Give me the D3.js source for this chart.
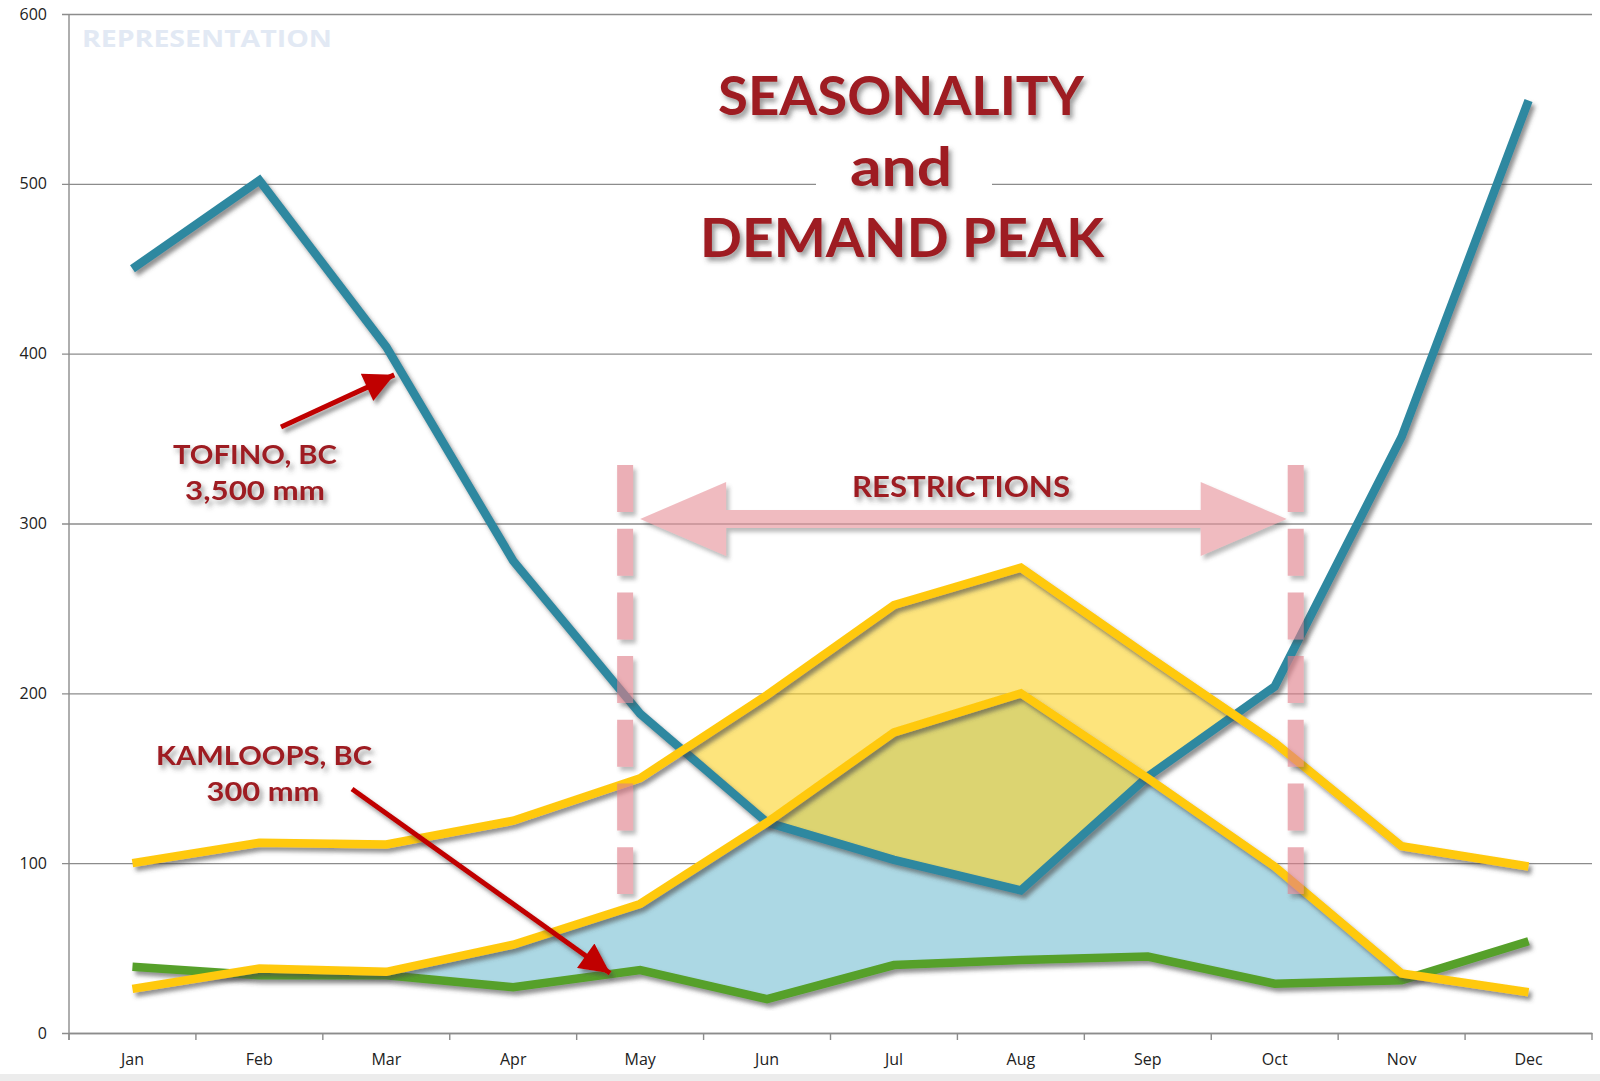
<!DOCTYPE html>
<html>
<head>
<meta charset="utf-8">
<script src="https://cdn.jsdelivr.net/npm/d3@7"></script>
<style>
  html, body { margin: 0; padding: 0; background: #fff; }
  svg { display: block; }
</style>
</head>
<body>
<div id="container"></div>
<script>
// chart data (mm per month)
var months = ["Jan", "Feb", "Mar", "Apr", "May", "Jun", "Jul", "Aug", "Sep", "Oct", "Nov", "Dec"];
var tofino = [450, 502, 404, 278, 188, 124, 102, 84, 151, 204, 351, 549];
var kamloops = [39, 34, 34, 27, 37, 20, 40, 43, 45, 29, 31, 54];
var demandHigh = [100, 112, 111, 125, 150, 199, 252, 274, 222, 171, 110, 98];
var demandLow = [26, 38, 36, 52, 76, 124, 177, 200, 150, 98, 35, 24];
var yTicks = [0, 100, 200, 300, 400, 500, 600];
var restrictFrom = "May", restrictTo = "Oct";

var w = 1600, h = 1081;
// plot edges (note: "top" is taken by window.top, so prefix them)
var plotLeft = 69, plotRight = 1592, plotTop = 14, plotBottom = 1033;

var svg = d3.select("#container")
  .append("svg")
  .attr("width", w)
  .attr("height", h);

var defs = svg.append("defs");

// soft drop shadow used for the lines and the labels
function shadow(id, dx, dy, sd, op) {
  defs.append("filter")
    .attr("id", id)
    .attr("x", "-20%").attr("y", "-20%")
    .attr("width", "140%").attr("height", "140%")
    .append("feDropShadow")
    .attr("dx", dx).attr("dy", dy)
    .attr("stdDeviation", sd)
    .attr("flood-color", "#4a4a4a")
    .attr("flood-opacity", op);
}
shadow("lineShadow", 3, 4, 2, 0.6);
shadow("textShadow", 3, 4, 2.5, 0.55);

var xScale = d3.scaleBand()
  .domain(months)
  .range([plotLeft, plotRight]);

var yScale = d3.scaleLinear()
  .domain([0, 600])
  .range([plotBottom, plotTop]);

function cx(m) { return xScale(m) + xScale.bandwidth() / 2; }

// bottom grey edge of the screenshot
svg.append("rect")
  .attr("x", 0).attr("y", 1074)
  .attr("width", w).attr("height", 7)
  .attr("fill", "#ececec");

// y axis with gridlines
var yAxis = svg.append("g")
  .attr("transform", "translate(" + plotLeft + ",0)")
  .call(d3.axisLeft(yScale)
    .tickValues(yTicks)
    .tickSizeInner(-(plotRight - plotLeft))
    .tickSizeOuter(0)
    .tickPadding(22));
yAxis.select(".domain").remove();
yAxis.selectAll(".tick line")
  .attr("x1", -7)
  .attr("stroke", "#8c8c8c")
  .attr("stroke-width", 1.4);
yAxis.selectAll(".tick text")
  .attr("font-family", "'Open Sans', sans-serif")
  .attr("font-size", "16px")
  .attr("fill", "#222");

svg.append("line")
  .attr("x1", plotLeft).attr("x2", plotLeft)
  .attr("y1", plotTop).attr("y2", plotBottom + 7)
  .attr("stroke", "#8c8c8c")
  .attr("stroke-width", 1.4);

// x axis: labels centred in the bands, ticks on the band edges
var xAxis = svg.append("g")
  .attr("transform", "translate(0," + plotBottom + ")")
  .call(d3.axisBottom(xScale).tickSize(0).tickPadding(21));
xAxis.select(".domain")
  .attr("stroke", "#8c8c8c")
  .attr("stroke-width", 1.4);
xAxis.selectAll(".tick text")
  .attr("font-family", "'Open Sans', sans-serif")
  .attr("font-size", "16px")
  .attr("fill", "#222");
xAxis.selectAll("line.edge")
  .data(months.concat(["end"]))
  .enter()
  .append("line")
  .attr("class", "edge")
  .attr("x1", function(d, i) { return plotLeft + i * xScale.bandwidth(); })
  .attr("x2", function(d, i) { return plotLeft + i * xScale.bandwidth(); })
  .attr("y1", 0).attr("y2", 7)
  .attr("stroke", "#8c8c8c")
  .attr("stroke-width", 1.4);

// watermark
svg.append("text")
  .text("REPRESENTATION")
  .attr("x", 82).attr("y", 47)
  .attr("font-family", "'Open Sans', sans-serif")
  .attr("font-weight", 700)
  .attr("font-size", "24px")
  .attr("textLength", 250)
  .attr("lengthAdjust", "spacingAndGlyphs")
  .attr("fill", "#e2e9f4");

// white box behind "and" that breaks the 500 gridline
svg.append("rect")
  .attr("x", 816).attr("y", 150)
  .attr("width", 176).attr("height", 48)
  .attr("fill", "#fff");

var lineGen = function(values) {
  return d3.line()
    .x(function(d, i) { return cx(months[i]); })
    .y(function(d) { return yScale(d); })(values);
};

// clip paths: the region above a series line
function clipAbove(id, values) {
  var area = d3.area()
    .x(function(d, i) { return cx(months[i]); })
    .y0(plotTop - 50)
    .y1(function(d) { return yScale(d); });
  defs.append("clipPath").attr("id", id)
    .append("path").attr("d", area(values));
}
clipAbove("aboveKamloops", kamloops);
clipAbove("aboveTofino", tofino);

function band(lo, hi) {
  return d3.area()
    .x(function(d, i) { return cx(months[i]); })
    .y0(function(d, i) { return yScale(lo[i]); })
    .y1(function(d, i) { return yScale(hi[i]); })(months);
}

// blue: low demand above the Kamloops supply
svg.append("path")
  .attr("d", band(kamloops, demandLow))
  .attr("clip-path", "url(#aboveKamloops)")
  .attr("fill", "#acd8e4");

// yellow: high demand above the Tofino supply
svg.append("path")
  .attr("d", band(tofino, demandHigh))
  .attr("clip-path", "url(#aboveTofino)")
  .attr("fill", "#fcd225")
  .attr("fill-opacity", 0.6);

var series = [
  { values: kamloops, color: "#56a02a" },
  { values: tofino, color: "#2f88a0" },
  { values: demandLow, color: "#ffc90e" },
  { values: demandHigh, color: "#ffc90e" }
];

svg.append("g")
  .attr("class", "lines")
  .selectAll("path")
  .data(series)
  .enter()
  .append("path")
  .attr("d", function(d) { return lineGen(d.values); })
  .attr("fill", "none")
  .attr("stroke", function(d) { return d.color; })
  .attr("stroke-width", 8.5)
  .attr("stroke-linejoin", "miter")
  .attr("filter", "url(#lineShadow)");

// restriction period: dashed markers and a double arrow
var rx0 = cx(restrictFrom) - 15;
var rx1 = cx(restrictTo) + 21;
var restrict = svg.append("g")
  .attr("opacity", 0.62)
  .attr("filter", "url(#lineShadow)");

restrict.selectAll("line")
  .data([rx0, rx1])
  .enter()
  .append("line")
  .attr("x1", function(d) { return d; })
  .attr("x2", function(d) { return d; })
  .attr("y1", 465).attr("y2", 894)
  .attr("stroke", "#e07f8a")
  .attr("stroke-width", 16)
  .attr("stroke-dasharray", "47,16.7");

var ay = 519, tipL = rx0 + 15, tipR = rx1 - 9;
var arrowPts = [
  [tipL, ay], [tipL + 86, ay - 37], [tipL + 86, ay - 9],
  [tipR - 86, ay - 9], [tipR - 86, ay - 37], [tipR, ay],
  [tipR - 86, ay + 37], [tipR - 86, ay + 9], [tipL + 86, ay + 9],
  [tipL + 86, ay + 37]
];
restrict.append("polygon")
  .attr("points", arrowPts.map(function(p) { return p.join(","); }).join(" "))
  .attr("fill", "#e7939b");

// text labels
var red = "#9e1c22";
function label(txt, x, y, size, len) {
  svg.append("text")
    .text(txt)
    .attr("x", x).attr("y", y)
    .attr("text-anchor", "middle")
    .attr("font-family", "Lato, 'Open Sans', sans-serif")
    .attr("font-weight", 700)
    .attr("font-size", size + "px")
    .attr("textLength", len)
    .attr("lengthAdjust", "spacingAndGlyphs")
    .attr("fill", red)
    .attr("filter", "url(#textShadow)");
}
label("SEASONALITY", 901, 115, 54, 366);
label("and", 901, 186, 54, 102);
label("DEMAND PEAK", 902, 257, 54, 404);
label("RESTRICTIONS", 961, 497, 28, 218);
label("TOFINO, BC", 255, 464, 27, 164);
label("3,500 mm", 255, 500, 27, 140);
label("KAMLOOPS, BC", 264, 765, 27, 216);
label("300 mm", 263, 801, 27, 113);

// red pointer arrows
defs.append("marker")
  .attr("id", "head")
  .attr("markerUnits", "userSpaceOnUse")
  .attr("viewBox", "0 0 10 10")
  .attr("refX", 10).attr("refY", 5)
  .attr("markerWidth", 36).attr("markerHeight", 30)
  .attr("orient", "auto")
  .append("path")
  .attr("d", "M0,0 L10,5 L0,10 Z")
  .attr("fill", "#c00000");

var pointers = [
  { from: [281, 427], month: "Mar", value: tofino[2], dx: 8, dy: 28 },
  { from: [352, 789], month: "May", value: kamloops[4], dx: -30, dy: 3 }
];
svg.selectAll("line.pointer")
  .data(pointers)
  .enter()
  .append("line")
  .attr("class", "pointer")
  .attr("x1", function(d) { return d.from[0]; })
  .attr("y1", function(d) { return d.from[1]; })
  .attr("x2", function(d) { return cx(d.month) + d.dx; })
  .attr("y2", function(d) { return yScale(d.value) + d.dy; })
  .attr("stroke", "#c00000")
  .attr("stroke-width", 5)
  .attr("marker-end", "url(#head)")
  .attr("filter", "url(#lineShadow)");
</script>
</body>
</html>
